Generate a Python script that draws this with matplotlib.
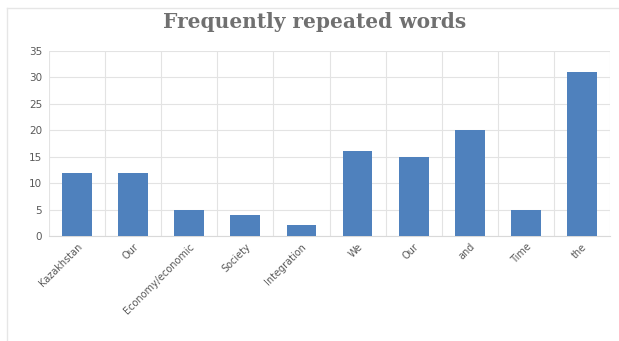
import numpy as np
import matplotlib.pyplot as plt
from matplotlib.lines import Line2D

# Dữ liệu
words = ["Kazakhstan", "Our", "Economy/economic", "Society", "Integration",
         "We", "Our", "and", "Time", "the"]
counts = [12, 12, 5, 4, 2, 16, 15, 20, 5, 31]
yticks = [0, 5, 10, 15, 20, 25, 30, 35]

bar_color = "#4F81BD"
grid_color = "#E3E3E3"
text_color = "#595959"

fig = plt.figure(figsize=(6.19, 3.41), dpi=100)
ax = fig.add_axes([49 / 619, 1 - 236 / 341, 561 / 619, 185 / 341])

# Khung viền của biểu đồ (chỉ thấy cạnh trái và cạnh trên)
x0, y0 = 7 / 619, 1 - 8 / 341
fig.add_artist(Line2D([x0, x0], [0, y0], transform=fig.transFigure,
                      color="#E6E6E6", linewidth=1))
fig.add_artist(Line2D([x0, 1], [y0, y0], transform=fig.transFigure,
                      color="#E6E6E6", linewidth=1))

x = np.arange(len(words))
ax.bar(x, counts, width=0.53, color=bar_color, zorder=3)

ax.set_xlim(-0.5, len(words) - 0.5)
ax.set_ylim(0, 35)
ax.set_yticks(yticks)
ax.set_xticks(x)
ax.set_xticklabels(words, rotation=45, ha="right", rotation_mode="anchor",
                   fontsize=7, color=text_color)
ax.tick_params(axis="y", labelsize=7.5, labelcolor=text_color, length=0, pad=5)
ax.tick_params(axis="x", length=0, pad=4)

# Lưới ngang + dọc (giữa các cột)
ax.grid(axis="y", color=grid_color, linewidth=0.8, zorder=0)
ax.set_xticks(np.arange(-0.5, len(words) + 0.5, 1), minor=True)
ax.grid(axis="x", which="minor", color=grid_color, linewidth=0.8, zorder=0)
ax.tick_params(axis="x", which="minor", length=0)

for side in ["top", "right", "left"]:
    ax.spines[side].set_visible(False)
ax.spines["bottom"].set_color("#D9D9D9")

fig.text(315 / 619, 1 - 22 / 341, "Frequently repeated words", ha="center", va="center",
         fontsize=14.5, fontweight="bold", family="DejaVu Serif", color="#707070")

plt.savefig("out.png", dpi=100)
